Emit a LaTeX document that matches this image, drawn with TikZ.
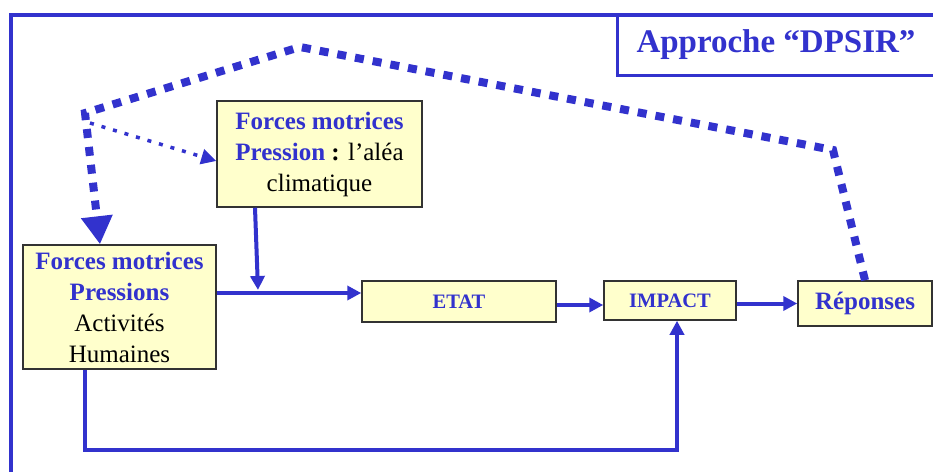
\documentclass[tikz,border=0pt]{standalone}
\usepackage{fontspec}
\setmainfont{Liberation Serif}
\usetikzlibrary{arrows.meta}
\definecolor{dpblue}{RGB}{50,50,205}
\definecolor{boxfill}{RGB}{255,255,204}
\begin{document}
\begin{tikzpicture}[x=1pt,y=-1pt,
  box/.style={draw=black!80, line width=1.5pt, fill=boxfill, inner sep=0pt,
    align=center, font=\fontsize{25}{31}\selectfont},
  smallbox/.style={box, font=\fontsize{20.5}{24}\selectfont\bfseries, text=dpblue},
  flow/.style={draw=dpblue, line width=4pt, line join=miter,
    -{Triangle[length=14pt,width=14pt]}},
  loopback/.style={draw=dpblue, line width=8pt, dash pattern=on 9pt off 9pt,
    -{Triangle[length=28pt,width=30pt]}},
  hazard/.style={draw=dpblue, line width=3.5pt, dash pattern=on 4pt off 8pt,
    -{Triangle[length=15pt,width=15pt]}}
]
\useasboundingbox (0,0) rectangle (933,471);
\fill[white] (0,0) rectangle (933,471);

% outer frame and title box
\draw[dpblue, line width=4pt] (11,473) -- (11,15) -- (935,15);
\draw[dpblue, line width=3pt] (617,15) -- (617,75) -- (935,75);
\node[text=dpblue, font=\fontsize{33}{40}\selectfont\bfseries] (title) at (776,45) {Approche “DPSIR”};

% boxes
\node[box, minimum width=205pt, minimum height=106pt] (press) at (319.5,154)
  {{\color{dpblue}\bfseries Forces motrices}\\
   {\color{dpblue}\bfseries Pression} \textbf{:} l’aléa\\
   climatique};
\node[box, minimum width=193pt, minimum height=124pt] (forces) at (119.5,307)
  {{\color{dpblue}\bfseries Forces motrices}\\
   {\color{dpblue}\bfseries Pressions}\\
   Activités\\
   Humaines};
\node[smallbox, minimum width=194pt, minimum height=41pt] (etat) at (459,301.5) {ETAT};
\node[smallbox, minimum width=132pt, minimum height=39pt] (impact) at (670,300.5) {IMPACT};
\node[box, minimum width=134pt, minimum height=45pt, text=dpblue, font=\fontsize{25}{30}\selectfont\bfseries]
  (rep) at (865,303.5) {Réponses};

% helper points
\coordinate (jn) at (258,290);
\coordinate (lb) at (85,450);
\coordinate (rb) at (677,450);
\coordinate (c1) at (833,150);
\coordinate (c2) at (300,47);
\coordinate (c3) at (85,113);
\coordinate (d0) at (90,123);

% main flow
\draw[flow] ([yshift=14pt]forces.east) coordinate (fe) -- (fe -| etat.west);
\draw[flow] ([xshift=-64.5pt]press.south) -- (jn);
\draw[flow] ([yshift=-3.5pt]etat.east) coordinate (ee) -- (ee -| impact.west);
\draw[flow] ([yshift=-3pt]impact.east) coordinate (ie) -- (ie -| rep.west);
\draw[flow] (forces.south -| lb) -- (lb) -- (rb) -- (rb |- impact.south);

% feedback loops
\draw[loopback] (rep.north) -- (c1) -- (c2) -- (c3) -- ([xshift=-19.5pt]forces.north);
\draw[hazard] (d0) -- ([yshift=-7pt]press.west);
\end{tikzpicture}
\end{document}
